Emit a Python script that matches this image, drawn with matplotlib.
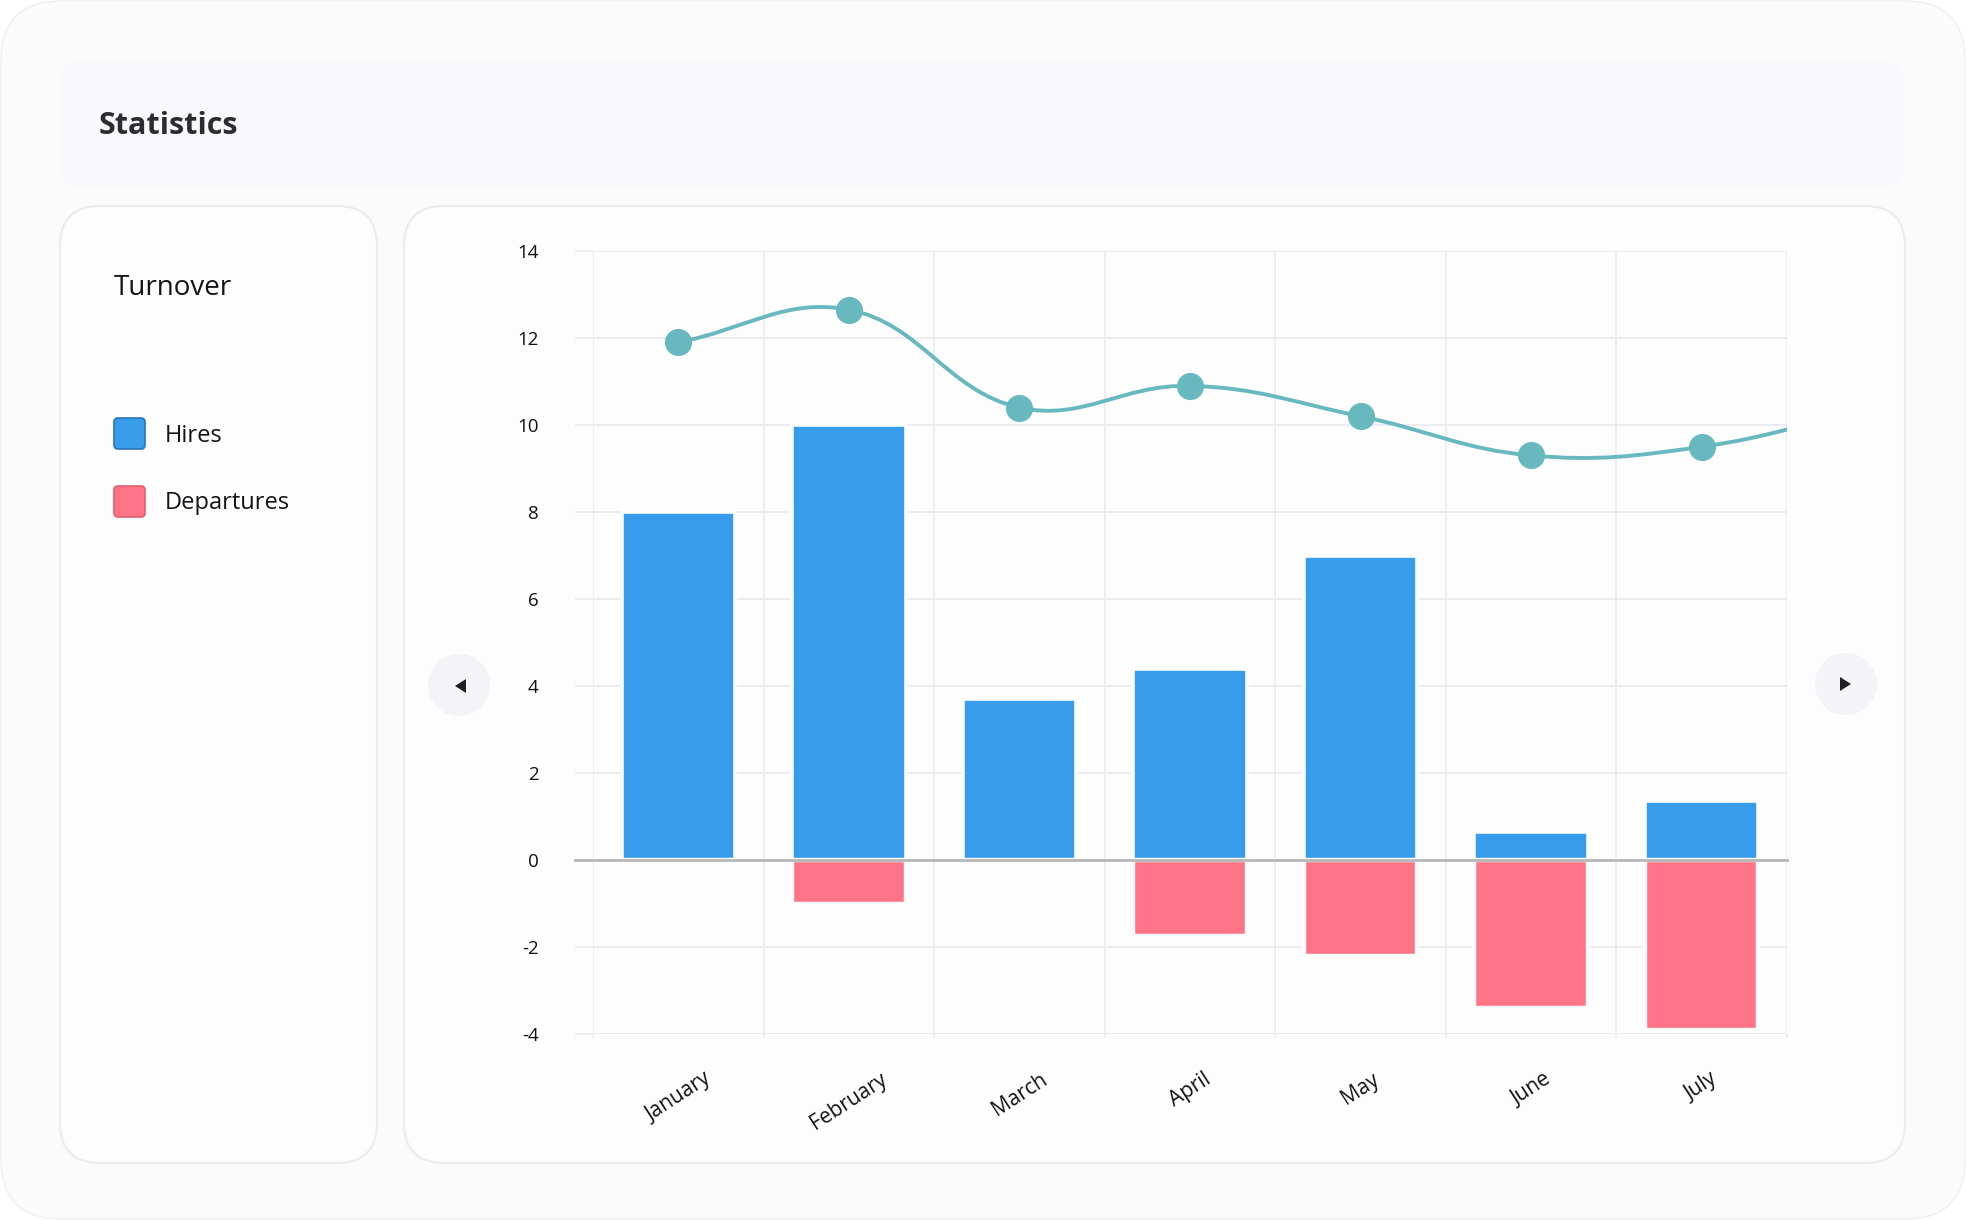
import numpy as np
import matplotlib
matplotlib.use("Agg")
import matplotlib.pyplot as plt
from matplotlib.patches import FancyBboxPatch, Circle, Polygon, PathPatch
from matplotlib.path import Path

# ---------------- data ----------------
months = ["January", "February", "March", "April", "May", "June", "July"]
hires = [8.0, 10.0, 3.7, 4.4, 7.0, 0.65, 1.35]
departures = [0.0, -1.0, 0.0, -1.75, -2.2, -3.4, -3.9]
# turnover trend; the last value belongs to the next month (scrolled out of view)
turnover_rate = [11.9, 12.65, 10.4, 10.9, 10.2, 9.3, 9.5, 10.4]
y_ticks = [-4, -2, 0, 2, 4, 6, 8, 10, 12, 14]
series_names = ["Hires", "Departures"]
title = "Statistics"
card_title = "Turnover"

# ---------------- style ----------------
W, H, DPI = 1966, 1220, 100
BLUE, BLUE_EDGE = "#389cec", "#2c74b8"
RED, RED_EDGE = "#ff7386", "#e0606f"
TEAL = "#68b8c0"
GRID = "#ebebef"
PANEL = "#fdfdfe"
plt.rcParams["font.family"] = ["Open Sans", "DejaVu Sans"]

fig = plt.figure(figsize=(W / DPI, H / DPI), dpi=DPI, facecolor="white")

# background / decoration layer in pixel coordinates
bg = fig.add_axes([0, 0, 1, 1], zorder=0)
bg.set_xlim(0, W)
bg.set_ylim(H, 0)
bg.axis("off")


def rbox(x0, y0, x1, y1, r, fc, ec="none", lw=1.5):
    bg.add_patch(FancyBboxPatch((x0, y0), x1 - x0, y1 - y0,
                                boxstyle=f"round,pad=0,rounding_size={r}",
                                fc=fc, ec=ec, lw=lw))


rbox(1, 1, W - 1, H - 1, 60, "#fbfbfc", "#f1f1f4", 1.2)       # outer card
rbox(60, 61, 1904, 186, 22, "#f8f8fd")                        # header
rbox(60, 206, 377, 1163, 40, PANEL, "#ececf0", 1.5)           # legend panel
rbox(404, 206, 1905, 1163, 40, PANEL, "#ececf0", 1.5)         # chart panel

bg.text(99, 134, title, fontsize=22, fontweight="bold", color="#2b2b33",
        va="baseline", ha="left")
bg.text(114, 295, card_title, fontsize=20, color="#141418",
        va="baseline", ha="left")

legend_colors = [(BLUE, BLUE_EDGE), (RED, RED_EDGE)]
legend_rows = [(418, 442), (486, 509)]
for name, (fc, ec), (ytop, ybase) in zip(series_names, legend_colors, legend_rows):
    rbox(114, ytop, 145, ytop + 31, 4, fc, ec, 1.2)
    bg.text(165, ybase, name, fontsize=17, color="#141418",
            va="baseline", ha="left")

# navigation buttons
bg.add_patch(Circle((459, 685), 31, fc="#f3f3f8", ec="none"))
bg.add_patch(Polygon([(455, 686), (466, 679), (466, 693)], closed=True,
                     fc="#1f1f24", ec="none"))
bg.add_patch(Circle((1846, 684), 31, fc="#f3f3f8", ec="none"))
bg.add_patch(Polygon([(1851, 684), (1840, 677), (1840, 691)], closed=True,
                     fc="#1f1f24", ec="none"))

# ---------------- chart ----------------
ax_left, ax_right, ax_top, ax_bottom = 593, 1787, 251, 1034
ax = fig.add_axes([ax_left / W, (H - ax_bottom) / H,
                   (ax_right - ax_left) / W, (ax_bottom - ax_top) / H], zorder=2)
ax.patch.set_alpha(0)
x = np.arange(len(months))
ax.set_xlim(-0.5, len(months) - 0.5)
ax.set_ylim(min(y_ticks), max(y_ticks))

ax.bar(x, hires, width=0.665, color=BLUE, edgecolor=PANEL, linewidth=2.6, zorder=3)
ax.bar(x, departures, width=0.665, color=RED, edgecolor=PANEL, linewidth=3.2, zorder=3)
ax.axhline(0, xmin=-0.015, xmax=1.0, color="#b7b7ba", lw=2.0, zorder=4, clip_on=False)

for s in ax.spines.values():
    s.set_visible(False)

ax.set_yticks(y_ticks)
ax.set_yticklabels([str(v) for v in y_ticks])
ax.set_xticks(x)
ax.set_xticklabels(months, rotation=33, ha="center", va="top", fontsize=15,
                   color="#111114")
ax.set_xticks(np.arange(-0.5, len(months)), minor=True)
ax.tick_params(axis="y", length=13, width=1.2, color=GRID, pad=26,
               labelsize=13.5, labelcolor="#111114")
ax.tick_params(axis="x", which="major", length=0, pad=25)
ax.tick_params(axis="x", which="minor", length=3, width=1.2, color=GRID)
ax.grid(axis="y", which="major", color=GRID, lw=1.3, zorder=0)
ax.grid(axis="x", which="minor", color=GRID, lw=1.2, zorder=0)
ax.set_axisbelow(True)


def smooth_path(axis, xs, ys, tension=0.4):
    pts = axis.transData.transform(np.column_stack([xs, ys]))
    n = len(pts)
    cps = []
    for i in range(n):
        prev = pts[i - 1] if i > 0 else pts[i]
        nxt = pts[i + 1] if i < n - 1 else pts[i]
        d01 = np.hypot(*(pts[i] - prev))
        d12 = np.hypot(*(nxt - pts[i]))
        s = d01 + d12
        fa = tension * d01 / s if s else 0.0
        fb = tension * d12 / s if s else 0.0
        cps.append((pts[i] - fa * (nxt - prev), pts[i] + fb * (nxt - prev)))
    verts = [pts[0]]
    codes = [Path.MOVETO]
    for i in range(n - 1):
        verts += [cps[i][1], cps[i + 1][0], pts[i + 1]]
        codes += [Path.CURVE4] * 3
    verts = axis.transData.inverted().transform(np.array(verts))
    return Path(verts, codes)


xr = np.arange(len(turnover_rate))
ax.add_patch(PathPatch(smooth_path(ax, xr, turnover_rate), fc="none", ec=TEAL,
                       lw=2.8, zorder=5, capstyle="round"))
ax.plot(x, turnover_rate[:len(months)], "o", ms=18.5, color=TEAL, mec=TEAL, zorder=6)

fig.savefig("out.png", dpi=DPI, facecolor=fig.get_facecolor())
